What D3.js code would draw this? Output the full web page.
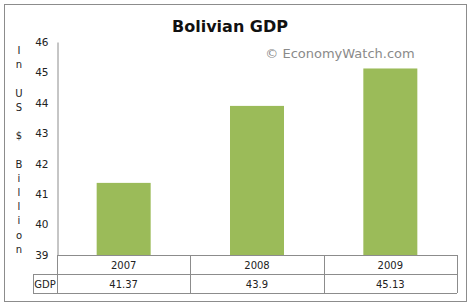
<!DOCTYPE html>
<html>
<head>
<meta charset="utf-8">
<script src="https://cdn.jsdelivr.net/npm/d3@7"></script>
<style>
body { margin: 0; background: #fff; }
text { font-family: "DejaVu Sans", Verdana, sans-serif; }
</style>
</head>
<body>
<svg id="chart" width="473" height="303"></svg>
<script>
// data
var years = ["2007", "2008", "2009"]
var gdp = [41.37, 43.9, 45.13]
var gdpLabels = ["41.37", "43.9", "45.13"]
var yTicks = [39, 40, 41, 42, 43, 44, 45, 46]
var yTitle = "In US $ Billion"

var svg = d3.select("#chart")

var plotLeft = 57, plotRight = 457, plotTop = 42, base = 255
var rowH = 19

var y = d3.scaleLinear().domain([39, 46]).range([base, plotTop])
var x = d3.scaleBand().domain(years).range([plotLeft, plotRight]).padding(0)

// outer frame
svg.append("rect")
    .attr("x", 4.5).attr("y", 4.5)
    .attr("width", 462).attr("height", 297)
    .attr("fill", "none")
    .attr("stroke", "#8c8c8c")

// title
svg.append("text")
    .attr("x", 230).attr("y", 32)
    .attr("text-anchor", "middle")
    .attr("font-family", "Liberation Sans, Arial, sans-serif")
    .attr("font-weight", "bold")
    .attr("font-size", 16)
    .attr("fill", "#111")
    .text("Bolivian GDP")

svg.append("text")
    .attr("x", 340).attr("y", 58)
    .attr("text-anchor", "middle")
    .attr("font-size", 13)
    .attr("fill", "#8a8a8a")
    .text("\u00a9 EconomyWatch.com")

// bars
var bw = x.bandwidth() * 0.405
svg.selectAll(".bar")
    .data(gdp)
    .enter()
    .append("rect")
    .attr("class", "bar")
    .attr("x", (d, i) => x(years[i]) + (x.bandwidth() - bw) / 2)
    .attr("y", d => y(d))
    .attr("width", bw)
    .attr("height", d => base - y(d))
    .attr("fill", "#9bbb59")

// y axis
var yAxis = d3.axisLeft(y).tickValues(yTicks).tickFormat(d3.format("d")).tickSize(0).tickPadding(9)
var ga = svg.append("g")
    .attr("transform", "translate(" + (plotLeft + 0.5) + ",0)")
    .call(yAxis)
ga.select(".domain").attr("stroke", "#8c8c8c")
ga.selectAll("text")
    .attr("font-family", "DejaVu Sans, sans-serif")
    .attr("font-size", 10.5)
    .attr("fill", "#222")

// y title stacked letters
svg.selectAll(".ylab")
    .data(yTitle.split(""))
    .enter()
    .append("text")
    .attr("class", "ylab")
    .attr("x", 19)
    .attr("y", (d, i) => 54 + i * 14.2)
    .attr("text-anchor", "middle")
    .attr("font-size", 10)
    .attr("fill", "#222")
    .text(d => d)

// data table
var lineColor = "#8c8c8c"
var g = svg.append("g").attr("stroke", lineColor).attr("shape-rendering", "crispEdges")
g.append("line").attr("x1", plotLeft).attr("x2", plotRight).attr("y1", base + 0.5).attr("y2", base + 0.5)
g.append("line").attr("x1", 33).attr("x2", plotRight).attr("y1", base + rowH + 0.5).attr("y2", base + rowH + 0.5)
g.append("line").attr("x1", 33).attr("x2", plotRight).attr("y1", base + 2 * rowH + 0.5).attr("y2", base + 2 * rowH + 0.5)
g.append("line").attr("x1", 33.5).attr("x2", 33.5).attr("y1", base + rowH).attr("y2", base + 2 * rowH)
g.append("line").attr("x1", plotLeft + 0.5).attr("x2", plotLeft + 0.5).attr("y1", base).attr("y2", base + 2 * rowH)
g.selectAll(".vl")
    .data(years)
    .enter()
    .append("line")
    .attr("class", "vl")
    .attr("x1", d => Math.round(x(d) + x.bandwidth()) + 0.5)
    .attr("x2", d => Math.round(x(d) + x.bandwidth()) + 0.5)
    .attr("y1", base)
    .attr("y2", base + 2 * rowH)

svg.selectAll(".yr")
    .data(years)
    .enter()
    .append("text")
    .attr("x", d => x(d) + x.bandwidth() / 2)
    .attr("y", base + 13.5)
    .attr("text-anchor", "middle")
    .attr("font-size", 10)
    .attr("fill", "#222")
    .text(d => d)

svg.selectAll(".val")
    .data(gdpLabels)
    .enter()
    .append("text")
    .attr("x", (d, i) => x(years[i]) + x.bandwidth() / 2)
    .attr("y", base + rowH + 13.5)
    .attr("text-anchor", "middle")
    .attr("font-size", 10)
    .attr("fill", "#222")
    .text(d => d)

svg.append("text")
    .attr("x", 45).attr("y", base + rowH + 13.5)
    .attr("text-anchor", "middle")
    .attr("font-size", 10)
    .attr("fill", "#222")
    .text("GDP")
</script>
</body>
</html>
